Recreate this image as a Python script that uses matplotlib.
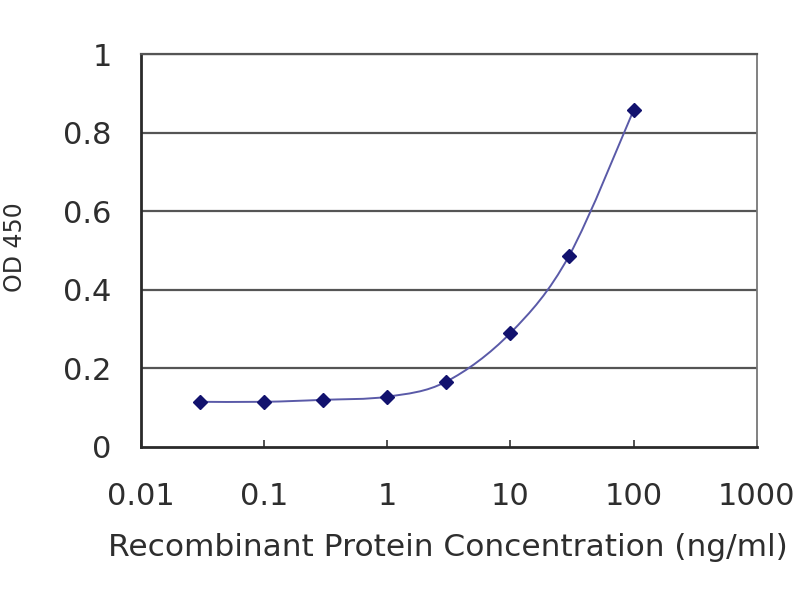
import numpy as np
import matplotlib
matplotlib.use("Agg")
import matplotlib.pyplot as plt
from matplotlib.path import Path
from matplotlib.patches import PathPatch

# ELISA standard curve values
concentration = [0.03, 0.1, 0.3, 1, 3, 10, 30, 100]
od450 = [0.115, 0.115, 0.12, 0.128, 0.166, 0.29, 0.487, 0.857]
x_ticks = [0.01, 0.1, 1, 10, 100, 1000]
x_tick_labels = ["0.01", "0.1", "1", "10", "100", "1000"]
y_ticks = [0, 0.2, 0.4, 0.6, 0.8, 1]
y_tick_labels = ["0", "0.2", "0.4", "0.6", "0.8", "1"]

plt.rcParams['font.family'] = ['DejaVu Sans']
text_color = '#2e2e2e'


def smooth_path(xs, ys):
    """Catmull-Rom style bezier through the points, in log-x space."""
    lx = np.log10(xs)
    ly = np.asarray(ys, dtype=float)
    verts = [(xs[0], ly[0])]
    codes = [Path.MOVETO]
    n = len(lx)
    for i in range(n - 1):
        p0 = max(i - 1, 0)
        p3 = min(i + 2, n - 1)
        c1x = lx[i] + (lx[i + 1] - lx[p0]) / 6
        c1y = ly[i] + (ly[i + 1] - ly[p0]) / 6
        c2x = lx[i + 1] - (lx[p3] - lx[i]) / 6
        c2y = ly[i + 1] - (ly[p3] - ly[i]) / 6
        verts += [(10 ** c1x, c1y), (10 ** c2x, c2y), (xs[i + 1], ly[i + 1])]
        codes += [Path.CURVE4] * 3
    return Path(verts, codes)


fig = plt.figure(figsize=(8, 6), dpi=100)
ax = fig.add_axes([0.176, 0.255, 0.77, 0.655])

ax.set_xscale('log')
ax.set_xlim(0.01, 1000)
ax.set_ylim(0, 1)

for y in y_ticks[1:]:
    ax.axhline(y, color='#555555', lw=1.6, zorder=1)

curve = PathPatch(smooth_path(concentration, od450), facecolor='none',
                  edgecolor='#5a5aa8', lw=1.4, zorder=2)
ax.add_patch(curve)
ax.plot(concentration, od450, linestyle='none', marker='D', markersize=7.5,
        color='#12126e', zorder=3)

ax.set_xticks(x_ticks)
ax.set_xticklabels(x_tick_labels)
ax.xaxis.set_minor_locator(matplotlib.ticker.NullLocator())
ax.set_yticks(y_ticks)
ax.set_yticklabels(y_tick_labels)

ax.tick_params(axis='x', direction='in', length=5, width=1.2, color='#333333',
               pad=25, labelsize=22, labelcolor=text_color)
ax.tick_params(axis='y', length=0, pad=21, labelsize=22, labelcolor=text_color)

for side in ['left', 'bottom']:
    ax.spines[side].set_color('#2a2a2a')
    ax.spines[side].set_linewidth(2)
ax.spines['right'].set_color('#777777')
ax.spines['right'].set_linewidth(1.3)
ax.spines['top'].set_color('#555555')
ax.spines['top'].set_linewidth(1.6)

# axis titles placed in figure pixels to match the reference layout
fig.text(448 / 800, 1 - 548 / 600, 'Recombinant Protein Concentration (ng/ml)',
         fontsize=22.5, color=text_color, ha='center', va='center')
fig.text(15 / 800, 1 - 247 / 600, 'OD 450', fontsize=17, color=text_color,
         rotation=90, ha='center', va='center')

fig.savefig('out.png', dpi=100)
